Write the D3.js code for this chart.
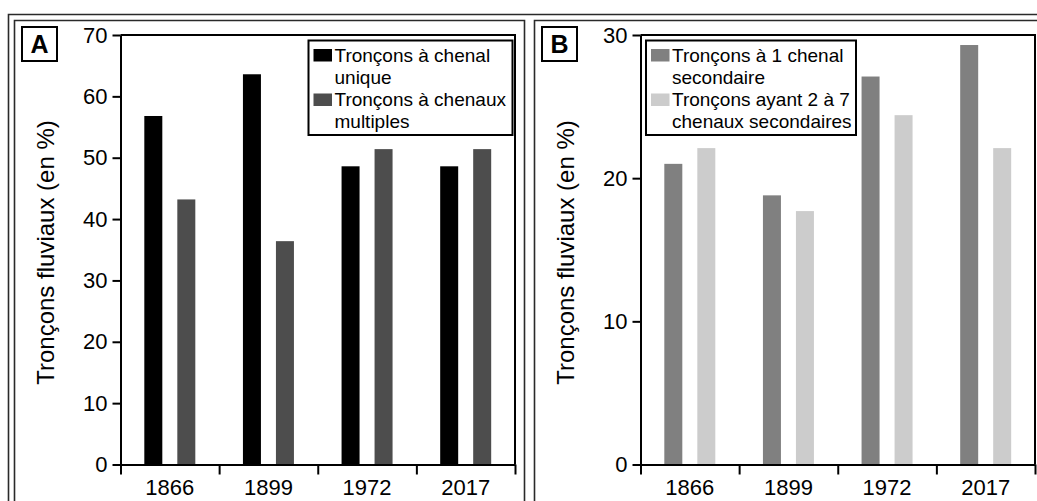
<!DOCTYPE html>
<html>
<head>
<meta charset="utf-8">
<script src="https://cdn.jsdelivr.net/npm/d3@7"></script>
<style>
  html, body { margin: 0; padding: 0; background: #fff; }
  svg { display: block; font-family: "Liberation Sans", Arial, Helvetica, sans-serif; }
</style>
</head>
<body>
<svg id="chart" width="1037" height="501"></svg>
<script>
// Years surveyed
const years = ["1866", "1899", "1972", "2017"];

// Panel A: share of river reaches by channel pattern (%)
const singleChannel = [56.8, 63.6, 48.6, 48.6];
const multiChannel = [43.2, 36.4, 51.4, 51.4];

// Panel B: share of reaches by number of secondary channels (%)
const oneSecondary = [21.0, 18.8, 27.1, 29.3];
const twoToSevenSecondary = [22.1, 17.7, 24.4, 22.1];

// Axis ticks
const ticksA = [0, 10, 20, 30, 40, 50, 60, 70];
const ticksB = [0, 10, 20, 30];

const yTitle = "Tronçons fluviaux (en %)";

const panels = [
  {
    letter: "A",
    left: 120.5, right: 515,
    yMax: 70, ticks: ticksA,
    series: [
      { name: ["Tronçons à chenal", "unique"], values: singleChannel, color: "#000000" },
      { name: ["Tronçons à chenaux", "multiples"], values: multiChannel, color: "#4d4d4d" }
    ],
    legend: { x: 308.5, w: 204 }
  },
  {
    letter: "B",
    left: 640.5, right: 1035,
    yMax: 30, ticks: ticksB,
    series: [
      { name: ["Tronçons à 1 chenal", "secondaire"], values: oneSecondary, color: "#808080" },
      { name: ["Tronçons ayant 2 à 7", "chenaux secondaires"], values: twoToSevenSecondary, color: "#cccccc" }
    ],
    legend: { x: 646, w: 210 }
  }
];

const svg = d3.select("#chart");
const plotTop = 35, plotBottom = 464.5;

// Double frame lines around the figure and panels
const frame = svg.append("g").attr("fill", "none").attr("stroke", "#2a2a2a").attr("stroke-width", 1.6);
frame.append("path").attr("d", "M8.5,510 L8.5,14.5 L1045,14.5");
frame.append("path").attr("d", "M14.5,510 L14.5,20.5 L524.5,20.5 L524.5,510");
frame.append("path").attr("d", "M534.5,510 L534.5,20.5 L1045,20.5");

panels.forEach(p => {
  const g = svg.append("g");

  const x = d3.scaleBand().domain(years).range([p.left, p.right]).padding(0);
  const bw = x.bandwidth();
  const keys = p.series.map((s, i) => i);
  const xs = d3.scaleBand().domain(keys)
    .range([bw / 2 - 25.5, bw / 2 + 25.5])
    .paddingInner(15 / 33).paddingOuter(0);
  const y = d3.scaleLinear().domain([0, p.yMax]).range([plotBottom, plotTop]);

  // Bars
  p.series.forEach((s, si) => {
    g.append("g").selectAll("rect")
      .data(years.map((yr, i) => ({ yr, v: s.values[i] })))
      .join("rect")
      .attr("x", d => x(d.yr) + xs(si))
      .attr("width", xs.bandwidth())
      .attr("y", d => y(d.v))
      .attr("height", d => y(0) - y(d.v))
      .attr("fill", s.color);
  });

  // Plot box: top and right edges
  g.append("path")
    .attr("d", `M${p.left},${plotTop} L${p.right},${plotTop} L${p.right},${plotBottom}`)
    .attr("fill", "none").attr("stroke", "#000").attr("stroke-width", 2);

  // Y axis
  const yAxis = g.append("g")
    .attr("transform", `translate(${p.left},0)`)
    .call(d3.axisLeft(y).tickValues(p.ticks).tickSize(8).tickPadding(5).tickSizeOuter(0));
  yAxis.select(".domain").attr("stroke-width", 2);
  yAxis.selectAll(".tick line").attr("stroke-width", 2);
  yAxis.selectAll("text").attr("font-size", 22).attr("fill", "#000").attr("font-family", null);

  // X axis: boundary ticks between categories
  const xb = d3.scaleLinear().domain([0, years.length]).range([p.left, p.right]);
  const xAxisTicks = g.append("g")
    .attr("transform", `translate(0,${plotBottom})`)
    .call(d3.axisBottom(xb).ticks(years.length).tickSize(10).tickSizeOuter(0).tickFormat(""));
  xAxisTicks.select(".domain").attr("stroke-width", 2);
  xAxisTicks.selectAll(".tick line").attr("stroke-width", 2);

  // X axis: category labels
  const xLabels = g.append("g")
    .attr("transform", `translate(0,${plotBottom})`)
    .call(d3.axisBottom(x).tickSize(0).tickPadding(15));
  xLabels.select(".domain").remove();
  xLabels.selectAll("text").attr("font-size", 22).attr("fill", "#000").attr("font-family", null);

  // Y axis title
  g.append("text")
    .attr("transform", `translate(${p.left - 67},${252.5}) rotate(-90)`)
    .attr("text-anchor", "middle")
    .attr("font-size", 24)
    .text(yTitle);

  // Panel letter in a box
  const lx = p.left - 98.5;
  g.append("rect").attr("x", lx).attr("y", 27).attr("width", 35).attr("height", 34)
    .attr("fill", "#fff").attr("stroke", "#000").attr("stroke-width", 2);
  g.append("text").attr("x", lx + 17.5).attr("y", 53.3)
    .attr("text-anchor", "middle").attr("font-size", 25).attr("font-weight", "bold")
    .text(p.letter);

  // Legend
  const lg = g.append("g");
  lg.append("rect").attr("x", p.legend.x).attr("y", 40.5).attr("width", p.legend.w).attr("height", 94.5)
    .attr("fill", "#fff").attr("stroke", "#000").attr("stroke-width", 2);
  p.series.forEach((s, si) => {
    const base = 61.5 + si * 44.5;
    lg.append("rect").attr("x", p.legend.x + 5).attr("y", base - 12.5).attr("width", 18.5).attr("height", 12.5)
      .attr("fill", s.color);
    s.name.forEach((line, li) => {
      lg.append("text").attr("x", p.legend.x + 26).attr("y", base + li * 22)
        .attr("font-size", 19).text(line);
    });
  });
});
</script>
</body>
</html>
